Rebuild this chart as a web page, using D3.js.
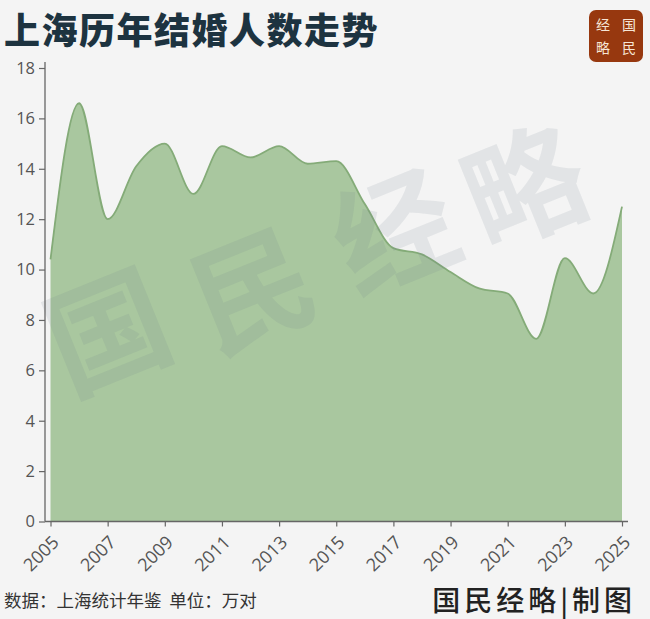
<!DOCTYPE html>
<html><head><meta charset="utf-8">
<script src="https://cdn.jsdelivr.net/npm/d3@7/dist/d3.min.js"></script>
<style>
html,body{margin:0;padding:0;background:#f4f4f4;}
svg{display:block;}
</style></head>
<body>
<svg id="c" width="650" height="619"></svg>
<script>
const years = [2005,2006,2007,2008,2009,2010,2011,2012,2013,2014,2015,2016,2017,2018,2019,2020,2021,2022,2023,2024,2025];
const marriages = [10.4,16.6,12.0,14.1,15.0,13.0,14.9,14.45,14.9,14.2,14.3,12.6,10.85,10.6,9.9,9.25,9.05,7.25,10.45,9.05,12.5];
const yTicks = [0,2,4,6,8,10,12,14,16,18];
const xTicks = [2005,2007,2009,2011,2013,2015,2017,2019,2021,2023,2025];
const titleText = "上海历年结婚人数走势";
const sourceText = "数据：上海统计年鉴  单位：万对";
const brandText = "国民经略|制图";
const watermark = ["国","民","经","略"];

const svg = d3.select("#c");
svg.append("rect").attr("width",650).attr("height",619).attr("fill","#f4f4f4");

const x = d3.scaleLinear().domain([2005,2025]).range([50.5,622]);
const y = d3.scaleLinear().domain([0,18]).range([521.5,68]);
const data = years.map((yr,i)=>({yr, v:marriages[i]}));

const area = d3.area().x(d=>x(d.yr)).y0(y(0)).y1(d=>y(d.v)).curve(d3.curveMonotoneX);
const line = d3.line().x(d=>x(d.yr)).y(d=>y(d.v)).curve(d3.curveMonotoneX);

svg.append("path").datum(data).attr("d",area).attr("fill","#a9c79f");
svg.append("path").datum(data).attr("d",line).attr("fill","none").attr("stroke","#84ab78").attr("stroke-width",1.8);

// watermark
const wm = svg.append("g").attr("font-family","'Noto Sans CJK SC'").attr("font-weight",700).attr("font-size",120);
const wmPos = [[105,325],[250,283],[392,225],[522,180]];
watermark.forEach((ch,i)=>{
  wm.append("text").attr("transform",`translate(${wmPos[i][0]},${wmPos[i][1]}) rotate(-22)`)
    .attr("text-anchor","middle").attr("dominant-baseline","central")
    .attr("fill","rgba(110,125,140,0.13)").text(ch);
});

// y axis
const yAxis = svg.append("g").attr("transform","translate(45,0)")
  .call(d3.axisLeft(y).tickValues(yTicks).tickSize(6).tickPadding(4));
yAxis.select(".domain").attr("d","M0,62V521.5").attr("stroke","#666").attr("stroke-width",1.3);
yAxis.selectAll(".tick line").attr("stroke","#666").attr("stroke-width",1.2);
yAxis.selectAll("text").attr("font-family","'Open Sans', 'Noto Sans'").attr("font-size",16.5).attr("fill","#555");

// x axis
const xAxis = svg.append("g").attr("transform",`translate(0,${y(0)})`)
  .call(d3.axisBottom(x).tickValues(xTicks).tickFormat(d3.format("d")).tickSize(5).tickPadding(3));
xAxis.select(".domain").attr("d","M45,0H628").attr("stroke","#666").attr("stroke-width",1.3);
xAxis.selectAll(".tick line").attr("stroke","#666").attr("stroke-width",1.2);
xAxis.selectAll("text").attr("font-family","'Open Sans', 'Noto Sans'").attr("font-size",18).attr("fill","#555")
  .attr("text-anchor","end").attr("y",0).attr("dy",0).attr("transform","translate(9,22) rotate(-45)");

// title
svg.append("text").attr("x",4).attr("y",44).attr("font-family","'Noto Sans CJK SC'").attr("font-weight",900)
  .attr("font-size",36).attr("letter-spacing",1.5).attr("fill","#1d3340").text(titleText);

// logo
const logo = svg.append("g");
logo.append("rect").attr("x",589).attr("y",10).attr("width",54).attr("height",52).attr("rx",7).attr("fill","#97380f");
[["经",603,30],["国",629,30],["略",603,53],["民",629,53]].forEach(([t,lx,ly])=>{
  logo.append("text").attr("x",lx).attr("y",ly).attr("text-anchor","middle").attr("font-family","'Noto Sans CJK SC'")
    .attr("font-size",14).attr("fill","#f6e6d6").text(t);
});

// footer
svg.append("text").attr("x",4).attr("y",607).attr("font-family","'Noto Sans CJK SC'").attr("font-size",17.5)
  .attr("fill","#333").attr("xml:space","preserve").text(sourceText);
svg.append("text").attr("x",636).attr("y",611).attr("text-anchor","end").attr("font-family","'Noto Sans CJK SC'")
  .attr("font-weight",500).attr("font-size",28).attr("fill","#222").attr("letter-spacing",4).text(brandText);
</script>
</body></html>
